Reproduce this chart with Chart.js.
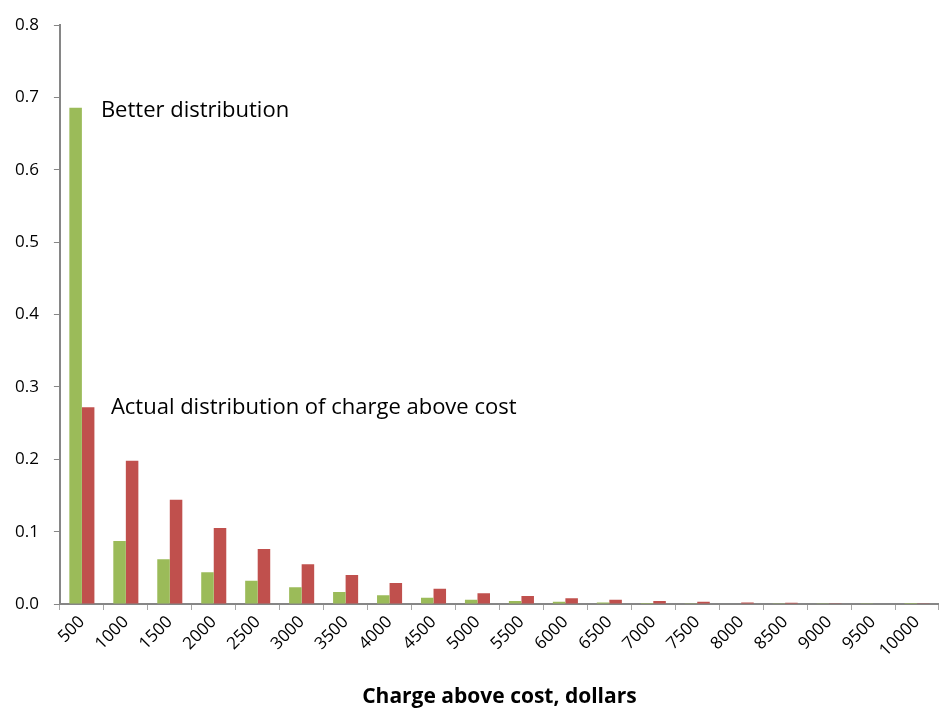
<!DOCTYPE html>
<html lang="en">
<head>
    <meta charset="UTF-8">
    <title>Charge above cost</title>
    <style>
        body {
            margin: 0;
            padding: 0;
            background: #ffffff;
        }
        .wrap {
            width: 939px;
            height: 719px;
        }
    </style>
    <script src="https://cdn.jsdelivr.net/npm/chart.js"></script>
</head>
<body>
    <div class="wrap"><canvas id="chart" width="939" height="719"></canvas></div>
    <script>
        // categories (charge above cost, dollars)
        const categories = ['500', '1000', '1500', '2000', '2500', '3000', '3500', '4000', '4500', '5000',
            '5500', '6000', '6500', '7000', '7500', '8000', '8500', '9000', '9500', '10000'];

        // green bars - better distribution
        const betterValues = [0.686, 0.087, 0.062, 0.044, 0.032, 0.023, 0.0165, 0.012, 0.0085, 0.006,
            0.0043, 0.003, 0.002, 0.0015, 0.001, 0.0007, 0.0005, 0.0003, 0.0002, 0.0001];

        // red bars - actual distribution
        const actualValues = [0.272, 0.198, 0.144, 0.105, 0.076, 0.055, 0.040, 0.029, 0.021, 0.015,
            0.011, 0.008, 0.0058, 0.0042, 0.003, 0.0022, 0.0016, 0.0011, 0.0008, 0.0005];

        const yTicks = [0, 0.1, 0.2, 0.3, 0.4, 0.5, 0.6, 0.7, 0.8];

        const FONT = '"Open Sans", sans-serif';

        // labels written next to the first pair of bars
        const notesPlugin = {
            id: 'notes',
            afterDatasetsDraw(chart) {
                const ctx = chart.ctx;
                const x = chart.scales.x;
                const y = chart.scales.y;
                const cx = x.getPixelForValue(0);
                ctx.save();
                ctx.fillStyle = '#000';
                ctx.font = '22px ' + FONT;
                ctx.textBaseline = 'middle';
                ctx.fillText('Better distribution', cx + 19, y.getPixelForValue(betterValues[0]) + 3);
                ctx.fillText('Actual distribution of charge above cost', cx + 29, y.getPixelForValue(actualValues[0]) + 1);
                ctx.restore();
            }
        };

        new Chart(document.getElementById('chart').getContext('2d'), {
            type: 'bar',
            data: {
                labels: categories,
                datasets: [{
                    label: 'Better distribution',
                    data: betterValues,
                    backgroundColor: '#9bbb59',
                    categoryPercentage: 0.57,
                    barPercentage: 1
                }, {
                    label: 'Actual distribution',
                    data: actualValues,
                    backgroundColor: '#c0504d',
                    categoryPercentage: 0.57,
                    barPercentage: 1
                }]
            },
            options: {
                responsive: false,
                animation: false,
                layout: {
                    padding: { top: 11, right: 0, left: 0, bottom: 5 }
                },
                plugins: {
                    legend: { display: false },
                    tooltip: { enabled: false }
                },
                scales: {
                    x: {
                        grid: {
                            drawOnChartArea: false,
                            color: '#a6a6a6',
                            tickLength: 6
                        },
                        border: { color: '#868686', width: 2 },
                        ticks: {
                            color: '#000',
                            font: { family: FONT, size: 17 },
                            minRotation: 45,
                            maxRotation: 45,
                            padding: 2
                        },
                        title: {
                            display: true,
                            text: 'Charge above cost, dollars',
                            color: '#000',
                            font: { family: FONT, size: 21, weight: 'bold' },
                            padding: { top: 22 }
                        }
                    },
                    y: {
                        min: 0,
                        max: 0.8,
                        afterBuildTicks(axis) {
                            axis.ticks = yTicks.map(v => ({ value: v }));
                        },
                        grid: {
                            drawOnChartArea: false,
                            color: '#868686',
                            tickLength: 6
                        },
                        border: { color: '#868686', width: 2 },
                        ticks: {
                            color: '#000',
                            font: { family: FONT, size: 17 },
                            padding: 15,
                            callback: v => Number(v).toFixed(1)
                        }
                    }
                }
            },
            plugins: [notesPlugin]
        });
    </script>
</body>
</html>
